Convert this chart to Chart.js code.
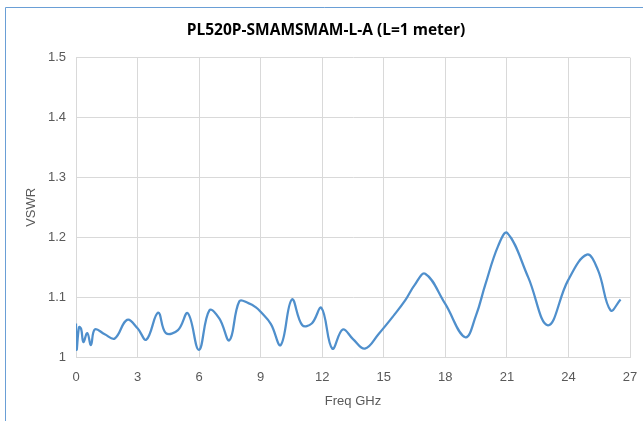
<!DOCTYPE html>
<html>
<head>
<meta charset="utf-8">
<script src="https://cdn.jsdelivr.net/npm/chart.js@4/dist/chart.umd.min.js"></script>
<style>
  html, body { margin: 0; padding: 0; background: #ffffff; }
  #wrap { position: relative; width: 643px; height: 421px; }
</style>
</head>
<body>
<div id="wrap"><canvas id="c" width="643" height="421"></canvas></div>
<script>
const chartTitle = "PL520P-SMAMSMAM-L-A (L=1 meter)";
const xAxisTitle = "Freq GHz";
const yAxisTitle = "VSWR";
const xTickValues = [0, 3, 6, 9, 12, 15, 18, 21, 24, 27];
const yTickValues = [1, 1.1, 1.2, 1.3, 1.4, 1.5];

const freqGHz = [0, 0.03, 0.15, 0.25, 0.36, 0.55, 0.73, 0.92, 1.4, 1.89, 2.49, 3.0, 3.43, 4.0, 4.38, 4.97,
  5.45, 5.99, 6.5, 6.99, 7.48, 7.96, 8.4, 8.77, 9.01, 9.5, 9.98, 10.52, 11.03, 11.49, 11.96, 12.49,
  13.0, 13.5, 14.08, 14.76, 15.5, 16.05, 16.5, 17.02, 17.99, 18.97, 19.5, 19.94, 20.58, 21.02, 22.04,
  23.0, 23.98, 24.9, 25.44, 26.05, 26.54];
const vswr = [1.056, 1.012, 1.05, 1.047, 1.025, 1.04, 1.02, 1.046, 1.038, 1.031, 1.062, 1.048, 1.029, 1.074, 1.04, 1.045,
  1.073, 1.012, 1.078, 1.064, 1.028, 1.093, 1.09, 1.083, 1.075, 1.055, 1.02, 1.096, 1.053, 1.056, 1.082, 1.014,
  1.046, 1.03, 1.014, 1.039, 1.07, 1.095, 1.12, 1.139, 1.089, 1.033, 1.07, 1.12, 1.186, 1.207, 1.133,
  1.053, 1.128, 1.171, 1.145, 1.078, 1.096];

const points = freqGHz.map((f, i) => ({ x: f, y: vswr[i] }));

const frameBorder = {
  id: 'frameBorder',
  afterDraw(chart) {
    const ctx = chart.ctx;
    ctx.save();
    ctx.strokeStyle = '#6a9fd6';
    ctx.lineWidth = 1;
    ctx.beginPath();
    ctx.moveTo(5.5, 421);
    ctx.lineTo(5.5, 7.5);
    ctx.lineTo(643, 7.5);
    ctx.stroke();
    ctx.restore();
  }
};

const gray = '#595959';
const tickFont = { family: "'Liberation Sans', Arial, sans-serif", size: 13 };

new Chart(document.getElementById('c'), {
  type: 'line',
  data: {
    datasets: [{
      data: points,
      borderColor: '#4f8fcc',
      borderWidth: 2.25,
      pointRadius: 0,
      tension: 0.4,
      fill: false
    }]
  },
  options: {
    responsive: false,
    animation: false,
    layout: { padding: { left: 22, right: 13, top: 0, bottom: 0 } },
    plugins: {
      legend: { display: false },
      tooltip: { enabled: false },
      title: {
        display: true,
        text: chartTitle,
        color: '#000000',
        font: { family: "'Open Sans', sans-serif", size: 15.5, weight: 'bold' },
        padding: { top: 21, bottom: 18 }
      }
    },
    scales: {
      x: {
        type: 'linear',
        min: 0,
        max: 27,
        afterBuildTicks(scale) { scale.ticks = xTickValues.map(v => ({ value: v })); },
        afterFit(scale) { scale.height = 64; scale.paddingRight = 0; scale.paddingLeft = 0; },
        ticks: { color: gray, font: tickFont, padding: 13, maxRotation: 0 },
        grid: { color: '#d9d9d9', drawTicks: false, lineWidth: 1 },
        border: { color: '#d9d9d9' },
        title: { display: true, text: xAxisTitle, color: gray, font: tickFont, padding: { top: 0, bottom: 12 } }
      },
      y: {
        type: 'linear',
        min: 1,
        max: 1.5,
        afterBuildTicks(scale) { scale.ticks = yTickValues.map(v => ({ value: v })); },
        afterFit(scale) { scale.width = 54; },
        ticks: { color: gray, font: tickFont, padding: 10,
          callback: v => (Math.round(v * 10) / 10).toString() },
        grid: { color: '#d9d9d9', drawTicks: false, lineWidth: 1 },
        border: { color: '#d9d9d9' },
        title: { display: true, text: yAxisTitle, color: gray, font: tickFont, padding: { top: 2, bottom: 0 } }
      }
    }
  },
  plugins: [frameBorder]
});
</script>
</body>
</html>
